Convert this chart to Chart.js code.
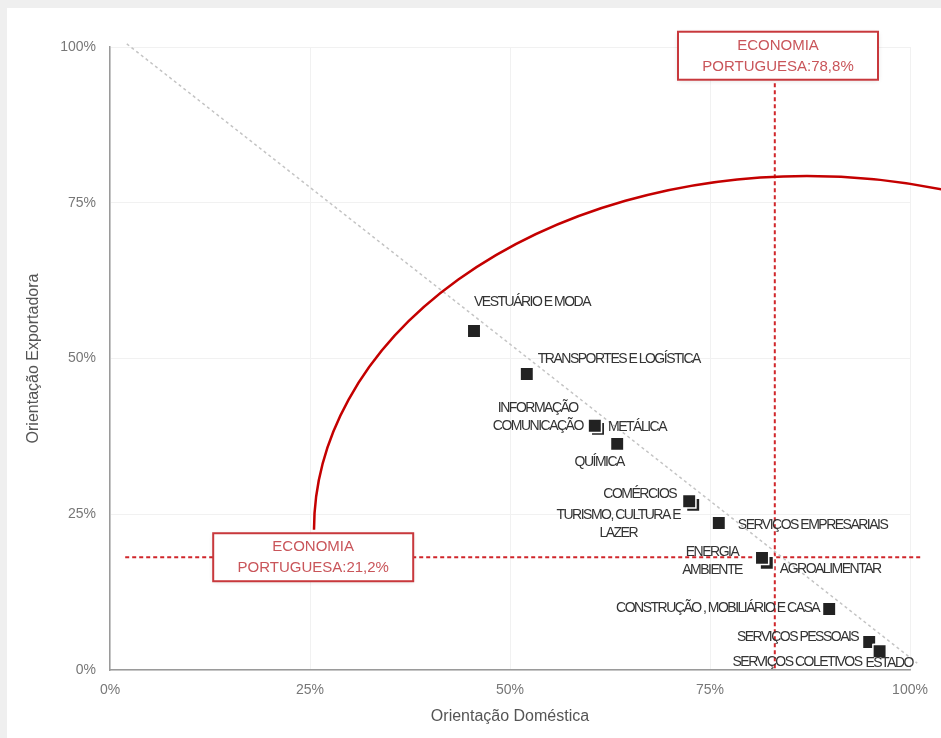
<!DOCTYPE html>
<html>
<head>
  <meta charset="utf-8">
  <title>Orientação Doméstica vs Exportadora</title>
  <script src="https://cdn.jsdelivr.net/npm/chart.js"></script>
  <style>
    body { margin: 0; background: #efefef; }
    #wrap { position: absolute; left: 7px; top: 8px; width: 934px; height: 730px; background: #fff; }
  </style>
</head>
<body>
  <div id="wrap">
    <canvas id="canvas" width="934" height="730"></canvas>
  </div>
  <script>
    // sectors: domestic orientation (x) and export orientation (y), in %
    var sectors = [
      ['VESTUÁRIO E MODA'],
      ['TRANSPORTES E LOGÍSTICA'],
      ['METÁLICA'],
      ['INFORMAÇÃO', 'COMUNICAÇÃO'],
      ['QUÍMICA'],
      ['TURISMO, CULTURA E', 'LAZER'],
      ['COMÉRCIOS'],
      ['SERVIÇOS EMPRESARIAIS'],
      ['AGROALIMENTAR'],
      ['ENERGIA', 'AMBIENTE'],
      ['CONSTRUÇÃO , MOBILIÁRIO E CASA'],
      ['SERVIÇOS PESSOAIS'],
      ['ESTADO'],
      ['SERVIÇOS COLETIVOS']
    ];
    var domestica = [45.5, 52.1, 61.0, 60.6, 63.4, 72.9, 72.4, 76.1, 82.1, 81.5, 89.9, 94.9, 96.3, 96.2];
    var exportadora = [54.4, 47.5, 38.7, 39.2, 36.3, 26.5, 27.1, 23.6, 17.2, 18.0, 9.8, 4.5, 3.0, 3.0];

    // national averages
    var mediaDomestica = 83.1;
    var mediaExportadora = 18.1;
    var textoDomestica = ['ECONOMIA', 'PORTUGUESA:78,8%'];
    var textoExportadora = ['ECONOMIA', 'PORTUGUESA:21,2%'];

    var axisTicks = [0, 25, 50, 75, 100];

    // label placement next to each square: [align, dx, dy] in px
    var labelPos = [
      ['left', 0, -29],
      ['left', 11, -15],
      ['left', 10, -2],
      ['center', -57, -18],
      ['center', -18, 18],
      ['center', -75, 10],
      ['right', -13, -7],
      ['left', 19, 2],
      ['left', 13, 6],
      ['center', -50, -6],
      ['right', -10, -1],
      ['right', -11, -5],
      ['left', -15, 12],
      ['right', -18, 11]
    ];

    var red = '#d0262b';
    var boxRed = '#c8383c';

    var points = domestica.map(function (x, i) { return { x: x, y: exportadora[i] }; });

    // big red arc, in axis units
    var arc = { x: 87.1, y: 22.5, rx: 61.6, ry: 56.8 };

    var overlayPlugin = {
      id: 'overlay',
      afterDatasetsDraw: function (chart) {
        var ctx = chart.ctx;
        var xs = chart.scales.x, ys = chart.scales.y;

        // arc
        var cx = xs.getPixelForValue(arc.x), cy = ys.getPixelForValue(arc.y);
        var rx = xs.getPixelForValue(arc.x + arc.rx) - cx;
        var ry = cy - ys.getPixelForValue(arc.y + arc.ry);
        ctx.save();
        ctx.strokeStyle = '#c40000';
        ctx.lineWidth = 2.5;
        ctx.beginPath();
        ctx.ellipse(cx, cy, rx, ry, 0, Math.PI, 2 * Math.PI);
        ctx.stroke();
        ctx.restore();

        // sector labels
        ctx.save();
        ctx.font = '14px "Liberation Sans", Arial, sans-serif';
        ctx.letterSpacing = '-1.5px';
        ctx.fillStyle = '#333';
        ctx.textBaseline = 'middle';
        var meta = chart.getDatasetMeta(3);
        meta.data.forEach(function (pt, i) {
          var p = labelPos[i];
          ctx.textAlign = p[0];
          sectors[i].forEach(function (line, j) {
            ctx.fillText(line, pt.x + p[1], pt.y + p[2] + j * 18);
          });
        });
        ctx.restore();

        // average boxes
        drawBox(ctx, xs.getPixelForValue(mediaDomestica + 0.4), ys.getPixelForValue(98.6), textoDomestica);
        drawBox(ctx, xs.getPixelForValue(25.4), ys.getPixelForValue(mediaExportadora), textoExportadora);
      }
    };

    function drawBox(ctx, x, y, lines) {
      var w = 200, h = 48;
      ctx.save();
      ctx.shadowColor = 'rgba(0,0,0,0.15)';
      ctx.shadowBlur = 5;
      ctx.shadowOffsetY = 1;
      ctx.fillStyle = '#fff';
      ctx.fillRect(x - w / 2, y - h / 2, w, h);
      ctx.shadowColor = 'transparent';
      ctx.strokeStyle = boxRed;
      ctx.lineWidth = 2;
      ctx.strokeRect(x - w / 2, y - h / 2, w, h);
      ctx.fillStyle = '#c9555a';
      ctx.font = '15px "Liberation Sans", Arial, sans-serif';
      ctx.textAlign = 'center';
      ctx.textBaseline = 'middle';
      ctx.fillText(lines[0], x, y - 10);
      ctx.fillText(lines[1], x, y + 11);
      ctx.restore();
    }

    var config = {
      type: 'scatter',
      data: {
        datasets: [{
          // diagonal reference
          data: [{ x: 2.1, y: 100.5 }, { x: 100.9, y: 1.1 }],
          showLine: true,
          borderColor: '#c4c4c4',
          borderWidth: 1.5,
          borderDash: [3, 3],
          pointRadius: 0,
          clip: false,
          order: 1
        }, {
          data: [{ x: mediaDomestica, y: 94.2 }, { x: mediaDomestica, y: 0 }],
          showLine: true,
          borderColor: red,
          borderWidth: 2,
          borderDash: [4, 3],
          pointRadius: 0,
          clip: false,
          order: 1
        }, {
          data: [{ x: 1.9, y: mediaExportadora }, { x: 101.3, y: mediaExportadora }],
          showLine: true,
          borderColor: red,
          borderWidth: 2,
          borderDash: [4, 3],
          pointRadius: 0,
          clip: false,
          order: 1
        }, {
          data: points,
          pointStyle: 'rect',
          pointRadius: 9.5,
          backgroundColor: '#222',
          borderColor: '#fff',
          borderWidth: 1.5,
          clip: false,
          order: 0
        }]
      },
      options: {
        responsive: false,
        animation: false,
        devicePixelRatio: 1,
        layout: { padding: { left: 0, top: 39, right: 31, bottom: 0 } },
        plugins: { legend: { display: false }, tooltip: { enabled: false } },
        scales: {
          x: {
            min: 0, max: 100,
            afterBuildTicks: function (s) { s.ticks = axisTicks.map(function (v) { return { value: v }; }); },
            afterFit: function (s) { s.height = 68; },
            ticks: { callback: function (v) { return v + '%'; }, color: '#777', font: { size: 14, family: 'Liberation Sans' }, padding: 12 },
            grid: { color: '#f1f1f1', drawTicks: false },
            border: { color: '#9a9a9a', width: 1.5 },
            title: { display: true, text: 'Orientação Doméstica', color: '#555', font: { size: 16, family: 'Liberation Sans' }, padding: { top: 4, bottom: 12 } }
          },
          y: {
            min: 0, max: 100,
            afterBuildTicks: function (s) { s.ticks = axisTicks.map(function (v) { return { value: v }; }); },
            afterFit: function (s) { s.width = 103; },
            ticks: { callback: function (v) { return v + '%'; }, color: '#777', font: { size: 14, family: 'Liberation Sans' }, padding: 14 },
            grid: { color: '#f1f1f1', drawTicks: false },
            border: { color: '#9a9a9a', width: 1.5 },
            title: { display: true, text: 'Orientação Exportadora', color: '#555', font: { size: 16, family: 'Liberation Sans' }, padding: { top: 17, bottom: 4 } }
          }
        }
      },
      plugins: [overlayPlugin]
    };

    var chart = new Chart(document.getElementById('canvas').getContext('2d'), config);
  </script>
</body>
</html>
